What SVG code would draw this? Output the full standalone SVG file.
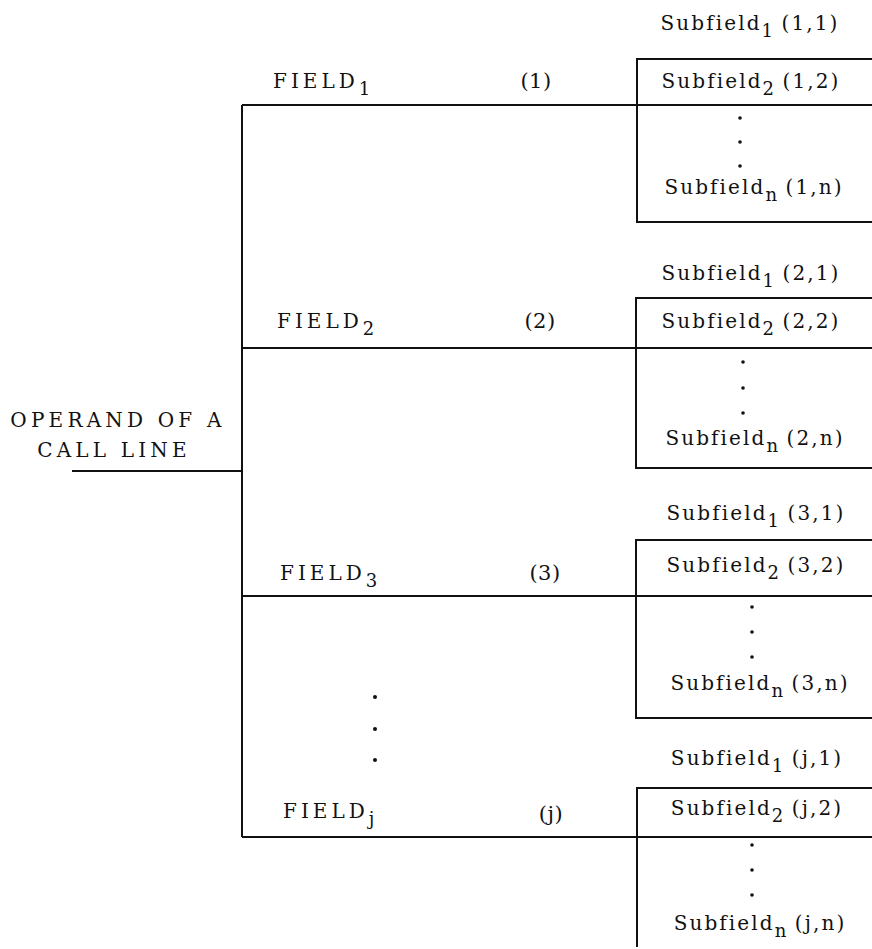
<svg xmlns="http://www.w3.org/2000/svg" width="872" height="949" viewBox="0 0 872 949">
<style>
text{font-family:"DejaVu Serif","Liberation Serif",serif;fill:#111;}
.sf{font-size:20px;letter-spacing:2.1px;text-anchor:middle;}
.fl{font-size:20px;letter-spacing:4px;}
.num{font-size:21px;letter-spacing:0.5px;text-anchor:middle;}
.op{font-size:20px;letter-spacing:4.2px;text-anchor:middle;}
.sub{font-size:18px;letter-spacing:0;}
.ln{stroke:#111;stroke-width:2;fill:none;}
.dot{fill:#111;}
</style>
<rect width="872" height="949" fill="#fff"/>
<g id="connectors">
<path class="ln" d="M72 471H242M242 105V837M242 105H872M242 348H872M242 596H872M242 837H872"/>
</g>
<g id="operand">
<text class="op" x="118" y="427">OPERAND OF A</text>
<text class="op" x="114" y="457">CALL LINE</text>
</g>
<g id="field1">
<text class="fl" x="273" y="88">FIELD<tspan class="sub" dy="7">1</tspan></text>
<text class="num" x="536" y="88">(1)</text>
</g>
<g id="field2">
<text class="fl" x="277" y="328">FIELD<tspan class="sub" dy="7">2</tspan></text>
<text class="num" x="540" y="328">(2)</text>
</g>
<g id="field3">
<text class="fl" x="280" y="580">FIELD<tspan class="sub" dy="7">3</tspan></text>
<text class="num" x="545" y="580">(3)</text>
</g>
<g id="fieldj">
<g class="dot"><circle cx="375" cy="697" r="2"/><circle cx="375" cy="729" r="2"/><circle cx="375" cy="760" r="2"/></g>
<text class="fl" x="283" y="818">FIELD<tspan class="sub" dy="7">j</tspan></text>
<text class="num" x="551" y="821">(j)</text>
</g>
<g id="box1">
<path class="ln" d="M872 59H637V222H872"/>
<text class="sf" x="750" y="30">Subfield<tspan class="sub" dy="7">1</tspan><tspan dy="-7"> (1,1)</tspan></text>
<text class="sf" x="751" y="88">Subfield<tspan class="sub" dy="7">2</tspan><tspan dy="-7"> (1,2)</tspan></text>
<g class="dot"><circle cx="740" cy="118" r="1.8"/><circle cx="740" cy="142" r="1.8"/><circle cx="740" cy="166" r="1.8"/></g>
<text class="sf" x="754" y="194">Subfield<tspan class="sub" dy="7">n</tspan><tspan dy="-7"> (1,n)</tspan></text>
</g>
<g id="box2">
<path class="ln" d="M872 298H636V468H872"/>
<text class="sf" x="751" y="280">Subfield<tspan class="sub" dy="7">1</tspan><tspan dy="-7"> (2,1)</tspan></text>
<text class="sf" x="751" y="328">Subfield<tspan class="sub" dy="7">2</tspan><tspan dy="-7"> (2,2)</tspan></text>
<g class="dot"><circle cx="743" cy="362" r="1.8"/><circle cx="743" cy="388" r="1.8"/><circle cx="743" cy="413" r="1.8"/></g>
<text class="sf" x="755" y="445">Subfield<tspan class="sub" dy="7">n</tspan><tspan dy="-7"> (2,n)</tspan></text>
</g>
<g id="box3">
<path class="ln" d="M872 540H636V718H872"/>
<text class="sf" x="756" y="520">Subfield<tspan class="sub" dy="7">1</tspan><tspan dy="-7"> (3,1)</tspan></text>
<text class="sf" x="756" y="572">Subfield<tspan class="sub" dy="7">2</tspan><tspan dy="-7"> (3,2)</tspan></text>
<g class="dot"><circle cx="752" cy="607" r="1.8"/><circle cx="752" cy="632" r="1.8"/><circle cx="752" cy="657" r="1.8"/></g>
<text class="sf" x="760" y="690">Subfield<tspan class="sub" dy="7">n</tspan><tspan dy="-7"> (3,n)</tspan></text>
</g>
<g id="boxj">
<path class="ln" d="M872 788H637V947"/>
<text class="sf" x="757" y="765">Subfield<tspan class="sub" dy="7">1</tspan><tspan dy="-7"> (j,1)</tspan></text>
<text class="sf" x="757" y="815">Subfield<tspan class="sub" dy="7">2</tspan><tspan dy="-7"> (j,2)</tspan></text>
<g class="dot"><circle cx="752" cy="845" r="1.8"/><circle cx="752" cy="870" r="1.8"/><circle cx="752" cy="895" r="1.8"/></g>
<text class="sf" x="760" y="930">Subfield<tspan class="sub" dy="7">n</tspan><tspan dy="-7"> (j,n)</tspan></text>
</g>
</svg>
